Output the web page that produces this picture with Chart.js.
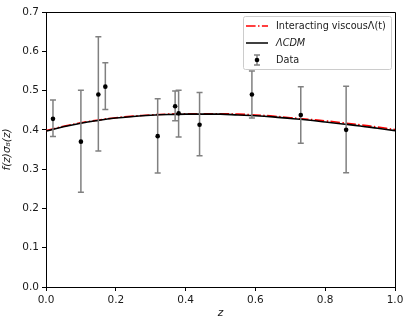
<!DOCTYPE html>
<html><head><meta charset="utf-8">
<script src="https://cdn.jsdelivr.net/npm/chart.js@4"></script>
<style>html,body{margin:0;padding:0;background:#fff}</style>
</head><body>
<canvas id="c" width="409" height="327"></canvas>
<script>
// ---- data ----
const zGrid = [0,0.05,0.1,0.15,0.2,0.25,0.3,0.35,0.4,0.45,0.5,0.55,0.6,0.65,0.7,0.75,0.8,0.85,0.9,0.95,1.0];
const interacting = [0.398,0.409,0.418,0.425,0.431,0.435,0.438,0.440,0.441,0.441,0.441,0.440,0.438,0.435,0.431,0.427,0.423,0.418,0.413,0.407,0.401];
const lcdm = [0.397,0.408,0.417,0.424,0.430,0.434,0.437,0.439,0.440,0.440,0.440,0.438,0.436,0.433,0.429,0.425,0.420,0.415,0.410,0.404,0.398];
const dataZ = [0.02,0.10,0.15,0.17,0.32,0.37,0.38,0.44,0.59,0.73,0.86];
const dataFs8 = [0.428,0.370,0.490,0.510,0.384,0.460,0.442,0.413,0.490,0.438,0.400];
const errLow = [0.383,0.241,0.346,0.452,0.290,0.423,0.382,0.334,0.430,0.366,0.291];
const errHigh = [0.476,0.501,0.637,0.571,0.479,0.499,0.501,0.495,0.550,0.510,0.511];
const xTicks = [0,0.2,0.4,0.6,0.8,1.0];
const yTicks = [0,0.1,0.2,0.3,0.4,0.5,0.6,0.7];
const labels = ['Interacting viscous\u039B(t)', '\u039BCDM', 'Data'];

const FONT = "'DejaVu Sans', sans-serif";
const TXT = '#1a1a1a';

const errorBars = {
  id: 'errorBars',
  beforeDatasetDraw(chart, args) {
    if (args.index !== 0) return;
    const ctx = chart.ctx, xs = chart.scales.x, ys = chart.scales.y;
    ctx.save();
    ctx.strokeStyle = '#808080';
    ctx.lineWidth = 1.5;
    for (let i = 0; i < dataZ.length; i++) {
      const px = xs.getPixelForValue(dataZ[i]);
      const y1 = ys.getPixelForValue(errLow[i]);
      const y2 = ys.getPixelForValue(errHigh[i]);
      ctx.beginPath();
      ctx.moveTo(px, y1); ctx.lineTo(px, y2);
      ctx.moveTo(px - 3, y1); ctx.lineTo(px + 3, y1);
      ctx.moveTo(px - 3, y2); ctx.lineTo(px + 3, y2);
      ctx.stroke();
    }
    ctx.restore();
  }
};

const frameAndLegend = {
  id: 'frameAndLegend',
  afterDraw(chart) {
    const ctx = chart.ctx, a = chart.chartArea;
    ctx.save();
    ctx.strokeStyle = '#000';
    ctx.lineWidth = 1;
    ctx.beginPath();
    ctx.moveTo(a.left, a.top + 0.5); ctx.lineTo(a.right + 0.5, a.top + 0.5); ctx.lineTo(a.right + 0.5, a.bottom);
    ctx.stroke();
    // legend
    const bx = a.right - 152, by = a.top + 4, bw = 148, bh = 53;
    ctx.fillStyle = 'rgba(255,255,255,0.8)';
    ctx.strokeStyle = '#cccccc';
    ctx.lineWidth = 1;
    ctx.beginPath();
    ctx.roundRect(bx + 0.5, by + 0.5, bw, bh, 2);
    ctx.fill(); ctx.stroke();
    const lx1 = bx + 3, lx2 = bx + 25, tx = bx + 33;
    const rows = [by + 10, by + 27, by + 44];
    // red dashdot
    ctx.strokeStyle = 'red'; ctx.lineWidth = 1.5; ctx.setLineDash([9.6,2.4,1.5,2.4]);
    ctx.beginPath(); ctx.moveTo(lx1, rows[0]); ctx.lineTo(lx2, rows[0]); ctx.stroke();
    ctx.setLineDash([]);
    ctx.strokeStyle = '#000';
    ctx.beginPath(); ctx.moveTo(lx1, rows[1]); ctx.lineTo(lx2, rows[1]); ctx.stroke();
    // data marker
    const mx = (lx1 + lx2) / 2;
    ctx.strokeStyle = '#808080'; ctx.lineWidth = 1.5;
    ctx.beginPath();
    ctx.moveTo(mx, rows[2] - 5); ctx.lineTo(mx, rows[2] + 5);
    ctx.moveTo(mx - 3, rows[2] - 5); ctx.lineTo(mx + 3, rows[2] - 5);
    ctx.moveTo(mx - 3, rows[2] + 5); ctx.lineTo(mx + 3, rows[2] + 5);
    ctx.stroke();
    ctx.fillStyle = '#000';
    ctx.beginPath(); ctx.arc(mx, rows[2], 2.3, 0, Math.PI * 2); ctx.fill();
    ctx.fillStyle = TXT;
    ctx.textBaseline = 'middle';
    ctx.font = '9.7px ' + FONT;
    ctx.fillText(labels[0], tx, rows[0]);
    ctx.font = 'italic 9.7px ' + FONT;
    ctx.fillText(labels[1], tx, rows[1]);
    ctx.font = '9.7px ' + FONT;
    ctx.fillText(labels[2], tx, rows[2]);
    ctx.restore();
  }
};

new Chart(document.getElementById('c'), {
  type: 'scatter',
  data: {
    datasets: [
      { label: labels[2], data: dataZ.map((z, i) => ({x: z, y: dataFs8[i]})),
        backgroundColor: '#000', borderColor: '#000', pointRadius: 2.3, pointBorderWidth: 0, showLine: false },
      { label: labels[1], type: 'line', data: zGrid.map((z, i) => ({x: z, y: lcdm[i]})),
        borderColor: '#000', borderWidth: 1.6, pointRadius: 0, fill: false, tension: 0.4 },
      { label: labels[0], type: 'line', data: zGrid.map((z, i) => ({x: z, y: interacting[i]})),
        borderColor: 'red', borderWidth: 1.6, borderDash: [9.6,2.4,1.5,2.4], pointRadius: 0, fill: false, tension: 0.4 }
    ]
  },
  options: {
    responsive: false,
    devicePixelRatio: 1,
    animation: false,
    layout: { padding: { top: 12, right: 14, left: 0, bottom: 0 } },
    plugins: { legend: { display: false }, tooltip: { enabled: false } },
    scales: {
      x: {
        type: 'linear', min: 0, max: 1,
        afterBuildTicks: s => { s.ticks = xTicks.map(v => ({value: v})); },
        afterFit: s => { s.height = 40; },
        ticks: { callback: v => v.toFixed(1), color: TXT, font: { family: FONT, size: 10.5 }, padding: 3, maxRotation: 0 },
        grid: { drawOnChartArea: false, tickLength: 4, color: '#000', tickWidth: 1 },
        border: { display: true, color: '#000', width: 1 },
        title: { display: true, text: 'z', color: TXT, font: { family: FONT, size: 10.5, style: 'italic' }, padding: { top: 2, bottom: 7 } }
      },
      y: {
        type: 'linear', min: 0, max: 0.7,
        afterBuildTicks: s => { s.ticks = yTicks.map(v => ({value: v})); },
        afterFit: s => { s.width = 46; },
        ticks: { callback: v => v.toFixed(1), color: TXT, font: { family: FONT, size: 10.5 }, padding: 3 },
        grid: { drawOnChartArea: false, tickLength: 4, color: '#000', tickWidth: 1 },
        border: { display: true, color: '#000', width: 1 },
        title: { display: true, text: 'f(z)\u03C3\u2088(z)', color: TXT, font: { family: FONT, size: 10.5, style: 'italic' }, padding: { top: 1, bottom: 2 } }
      }
    }
  },
  plugins: [errorBars, frameAndLegend]
});
</script>
</body></html>
